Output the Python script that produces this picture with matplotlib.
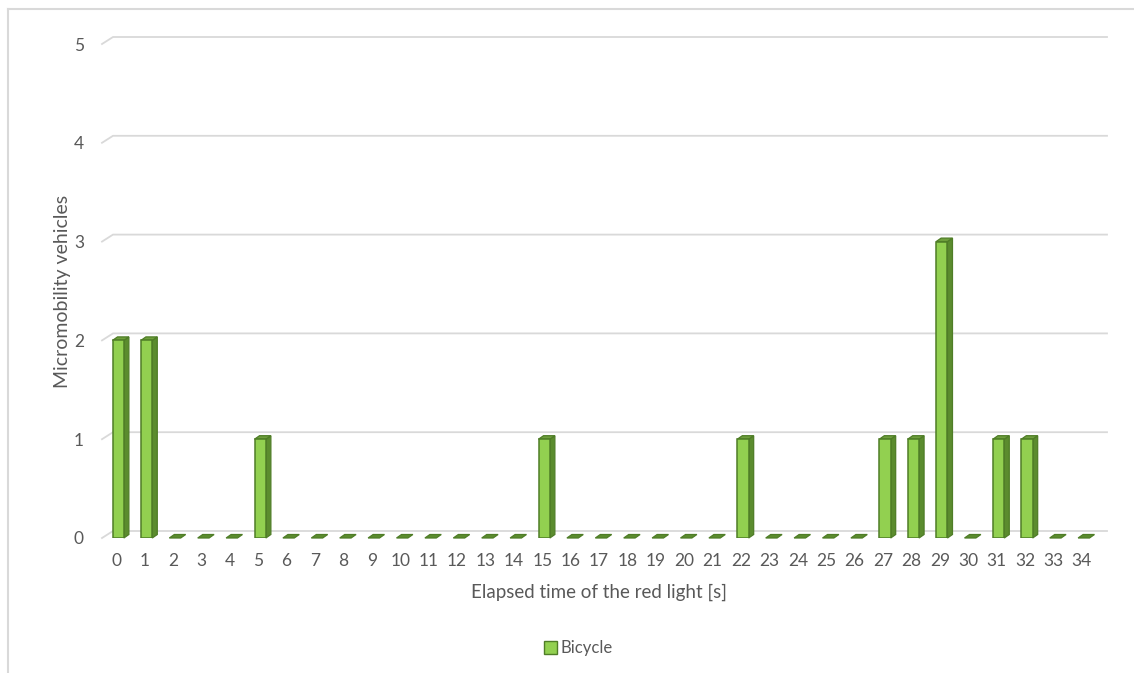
import matplotlib.pyplot as plt
from matplotlib.lines import Line2D
from matplotlib.patches import Patch

# Datos del gráfico
segundos = list(range(35))
bicicletas = [2, 2, 0, 0, 0, 1, 0, 0, 0, 0, 0, 0, 0, 0, 0, 1, 0, 0,
              0, 0, 0, 0, 1, 0, 0, 0, 0, 1, 1, 3, 0, 1, 1, 0, 0]
niveles_y = [0, 1, 2, 3, 4, 5]

# Colores estilo Excel 3D
verde = "#92D050"
verde_lado = "#5B8C2E"
verde_tapa = "#6E9F3C"
borde = "#4F7D27"
gris_texto = "#595959"
gris_rejilla = "#D9D9D9"

plt.rcParams["font.family"] = ["Lato", "DejaVu Sans"]

fig = plt.figure(figsize=(11.34, 6.73), dpi=100)
ax = fig.add_axes([102 / 1134, 1 - 538 / 673, 994 / 1134, 494 / 673])
ax.set_xlim(-0.5, len(segundos) - 0.5)
ax.set_ylim(0, 5)

# Profundidad en unidades de datos (px / px por unidad)
px_x = 994 / len(segundos)
px_y = 494 / 5
prof_x = 11 / px_x
prof_y = 7 / px_y
barra_x = 5 / px_x
barra_y = 3.5 / px_y
desplazamiento = 2 / px_x

# Rejilla con el tramo inclinado a la izquierda
for v in niveles_y:
    ax.plot([-0.5, -0.5 + prof_x, len(segundos) - 0.5 + prof_x],
            [v, v + prof_y, v + prof_y], color=gris_rejilla, lw=1.3,
            clip_on=False, zorder=1)

# Barras: cara frontal, lateral y superior
ancho = 0.4
for x, v in zip(segundos, bicicletas):
    xc = x + desplazamiento
    xl = xc - ancho / 2
    xr = xc + ancho / 2
    if v > 0:
        ax.bar(xc, v, width=ancho, color=verde, edgecolor=borde, lw=1.1, zorder=3)
        ax.fill([xr, xr + barra_x, xr + barra_x, xr],
                [0, barra_y, v + barra_y, v],
                color=verde_lado, ec=borde, lw=0.9, zorder=2, clip_on=False)
    ax.fill([xl, xl + barra_x, xr + barra_x, xr],
            [v, v + barra_y, v + barra_y, v],
            color=verde_tapa if v > 0 else verde_lado, ec=borde, lw=0.9,
            zorder=2, clip_on=False)

for s in ax.spines.values():
    s.set_visible(False)

ax.set_xticks(segundos)
ax.set_xticklabels([str(s) for s in segundos])
ax.set_yticks(niveles_y)
ax.tick_params(axis="x", length=0, pad=11, labelsize=12.5, labelcolor=gris_texto)
ax.tick_params(axis="y", length=0, pad=13, labelsize=12.5, labelcolor=gris_texto)

ax.set_xlabel("Elapsed time of the red light [s]", fontsize=13.5,
              color=gris_texto, labelpad=10)
ax.set_ylabel("Micromobility vehicles", fontsize=14, color=gris_texto,
              labelpad=2)

leyenda = [Patch(facecolor=verde, edgecolor=borde, label="Bicycle")]
fig.legend(handles=leyenda, loc="center", bbox_to_anchor=(0.51, 1 - 648 / 673),
           frameon=False, handlelength=0.8, handleheight=0.8,
           handletextpad=0.2, prop={"size": 12}, labelcolor=gris_texto)

# Marco del área del gráfico (solo izquierda y arriba visibles)
fig.add_artist(Line2D([8 / 1134, 8 / 1134], [0, 1 - 9 / 673],
                      color=gris_rejilla, lw=1.5))
fig.add_artist(Line2D([8 / 1134, 1], [1 - 9 / 673, 1 - 9 / 673],
                      color=gris_rejilla, lw=1.5))

fig.savefig("out.png", dpi=100, facecolor="white")
